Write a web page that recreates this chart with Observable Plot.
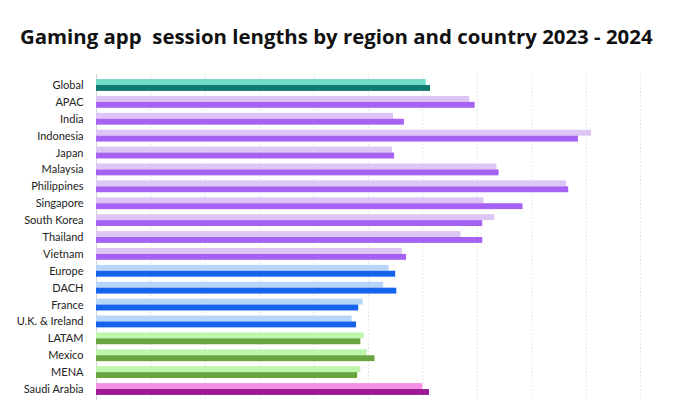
<!DOCTYPE html>
<html>
<head>
<meta charset="utf-8">
<script src="https://cdn.jsdelivr.net/npm/d3@7"></script>
<script src="https://cdn.jsdelivr.net/npm/@observablehq/plot@0.6"></script>
<style>
  html, body { margin: 0; padding: 0; background: #fff; overflow: hidden; }
  #title { font-family: "Open Sans", Lato, sans-serif; font-weight: 700; font-size: 20.4px; color: #111;
           position: absolute; left: 20px; top: 23px; white-space: pre; letter-spacing: 0px; line-height: 26px; }
  #chart { position: absolute; left: 0; top: 60px; }
</style>
</head>
<body>
<div id="title">Gaming app  session lengths by region and country 2023 - 2024</div>
<div id="chart"></div>
<script>
const countries = ["Global","APAC","India","Indonesia","Japan","Malaysia","Philippines","Singapore","South Korea","Thailand","Vietnam","Europe","DACH","France","U.K. & Ireland","LATAM","Mexico","MENA","Saudi Arabia"];
const values2023 = [30.3,34.3,27.3,45.5,27.2,36.8,43.2,35.6,36.6,33.5,28.1,26.9,26.4,24.5,23.5,24.6,24.9,24.3,30.0];
const values2024 = [30.7,34.8,28.3,44.3,27.4,37.0,43.4,39.2,35.5,35.5,28.5,27.5,27.6,24.1,23.9,24.3,25.6,24.0,30.6];
const colors2023 = ["#6fdcc8","#ddc6f6","#ddc6f6","#ddc6f6","#ddc6f6","#ddc6f6","#ddc6f6","#ddc6f6","#ddc6f6","#ddc6f6","#ddc6f6","#b7d5f8","#b7d5f8","#b7d5f8","#b7d5f8","#bdf5ad","#bdf5ad","#bdf5ad","#f590e6"];
const colors2024 = ["#107a6f","#a663f3","#a663f3","#a663f3","#a663f3","#a663f3","#a663f3","#a663f3","#a663f3","#a663f3","#a663f3","#1663ee","#1663ee","#1663ee","#1663ee","#68a53f","#68a53f","#68a53f","#9c1b95"];
const gridTicks = [0,5,10,15,20,25,30,35,40,45,50];

const d23 = countries.map((c, i) => ({country: c, value: values2023[i], color: colors2023[i]}));
const d24 = countries.map((c, i) => ({country: c, value: values2024[i], color: colors2024[i]}));

const plotH = 340, plotTop = 14;
const pad = 0.3;
const step = (plotH - plotTop) / (countries.length + pad);
const half = step * (1 - pad) / 2;

const chart = Plot.plot({
  width: 681,
  height: plotH,
  marginTop: plotTop,
  marginBottom: 0,
  marginLeft: 96,
  marginRight: 41,
  style: {fontFamily: "Lato, 'Open Sans', sans-serif", fontSize: "11px", color: "#222", background: "#fff"},
  x: {domain: [0, 50], axis: null},
  y: {domain: countries, padding: pad, round: false, label: null, tickSize: 0, tickPadding: 13},
  marks: [
    Plot.ruleX(gridTicks.slice(1), {stroke: "#dde0e8", strokeDasharray: "1.5,2", strokeWidth: 1}),
    Plot.ruleX([0], {stroke: "#d5d5d5", strokeWidth: 1}),
    Plot.barX(d23, {y: "country", x: "value", fill: "color", insetBottom: half}),
    Plot.barX(d24, {y: "country", x: "value", fill: "color", insetTop: half})
  ]
});
document.getElementById("chart").appendChild(chart);
</script>
</body>
</html>
